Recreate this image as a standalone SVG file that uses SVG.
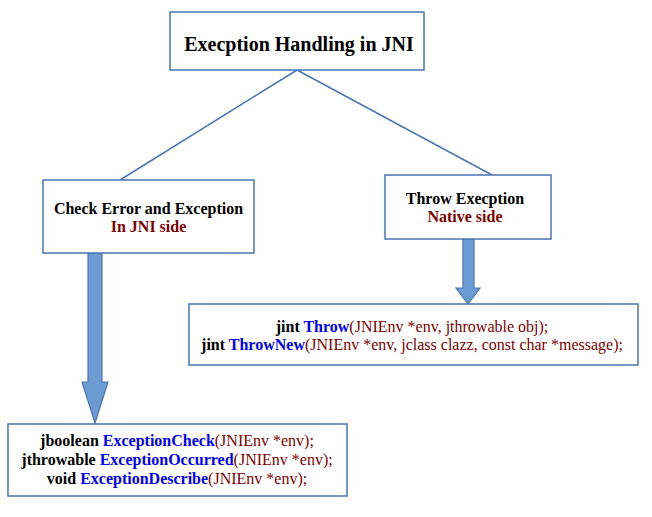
<svg xmlns="http://www.w3.org/2000/svg" width="652" height="517" viewBox="0 0 652 517">
<style>
.box{fill:#fff;stroke:#4a76b4;stroke-width:1.5}
.conn{stroke:#4a76b4;stroke-width:1.5;fill:none}
.arr{fill:#6c9bd2;stroke:#4a76b4;stroke-width:1.2}
text{font-family:"Liberation Serif","Times New Roman",serif;text-anchor:middle}
.b{font-weight:bold;fill:#000}
.r{fill:#800000}
.bl{fill:#0000ff;font-weight:bold}
.rn{fill:#800000;font-weight:normal}
</style>
<rect width="652" height="517" fill="#fff"/>
<g id="connectors">
<line class="conn" x1="297" y1="70" x2="120" y2="180"/>
<line class="conn" x1="297" y1="70" x2="492" y2="175"/>
<path id="arrow-left" class="arr" d="M88,253 L102,253 L102,382 L108,382 L95,423 L82,382 L88,382 Z"/>
<path id="arrow-right" class="arr" d="M463,239 L474,239 L474,288 L480,288 L468,304 L456,288 L463,288 Z"/>
</g>
<g id="title">
<rect class="box" x="170" y="12" width="254" height="58"/>
<text class="b" x="299" y="51" font-size="20">Execption Handling in JNI</text>
</g>
<g id="check">
<rect class="box" x="43" y="180" width="211" height="73"/>
<text class="b" x="148.5" y="214" font-size="16">Check Error and Exception</text>
<text class="b r" x="148.5" y="232" font-size="16">In JNI side</text>
</g>
<g id="throw">
<rect class="box" x="385" y="175" width="166" height="64"/>
<text class="b" x="465" y="204" font-size="16">Throw Execption</text>
<text class="b r" x="465" y="222" font-size="16">Native side</text>
</g>
<g id="throw-api">
<rect class="box" x="189" y="304" width="449" height="61"/>
<text class="b" x="412" y="332" font-size="16">jint <tspan class="bl">Throw</tspan><tspan class="rn">(JNIEnv *env, jthrowable obj);</tspan></text>
<text class="b" x="412" y="350" font-size="16">jint <tspan class="bl">ThrowNew</tspan><tspan class="rn">(JNIEnv *env, jclass clazz, const char *message);</tspan></text>
</g>
<g id="check-api">
<rect class="box" x="8" y="424" width="339" height="72"/>
<text class="b" x="177" y="446" font-size="16">jboolean <tspan class="bl">ExceptionCheck</tspan><tspan class="rn">(JNIEnv *env);</tspan></text>
<text class="b" x="177" y="465" font-size="16">jthrowable <tspan class="bl">ExceptionOccurred</tspan><tspan class="rn">(JNIEnv *env);</tspan></text>
<text class="b" x="177" y="484" font-size="16">void <tspan class="bl">ExceptionDescribe</tspan><tspan class="rn">(JNIEnv *env);</tspan></text>
</g>
</svg>
